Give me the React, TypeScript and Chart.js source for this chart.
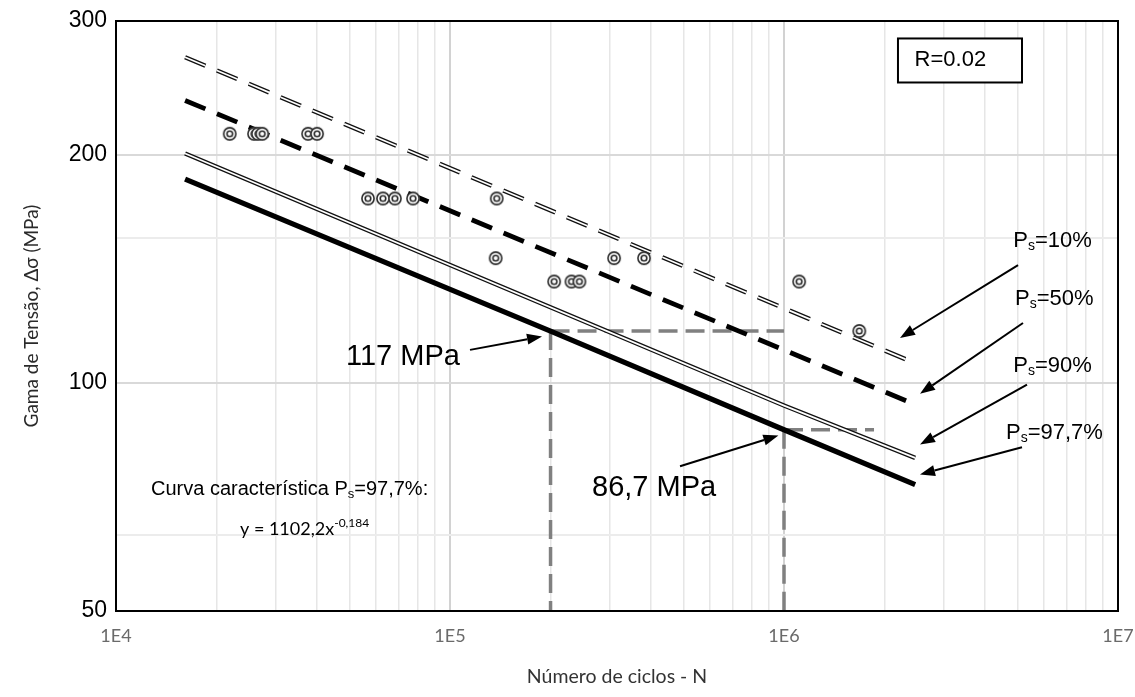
import React, { useEffect, useRef } from 'react';
import { Chart, registerables } from 'chart.js';

Chart.register(...registerables);

// Fatigue test results: cycles to failure N and stress range (MPa)
const testCycles = [21900, 25900, 26600, 27400, 37600, 40000, 56800, 63000, 68400, 77500, 138000, 137000, 205000, 231000, 244000, 310000, 381000, 1110000, 1680000];
const testStress = [213, 213, 213, 213, 213, 213, 175, 175, 175, 175, 175, 146, 136, 136, 136, 146, 146, 136, 117];

// S-N curves for the survival probabilities
const curveCycles = [16100, 2470000];
const ps10Stress = [268.8, 106.1];
const ps50Stress = [235.7, 93.6];
const ps90Cycles = [16100, 1000000, 2470000];
const ps90Stress = [200.6, 93.3, 79.6];
const ps977Cycles = [16100, 200000, 1000000, 2470000];
const ps977Stress = [185.6, 117, 86.7, 73.4];

// Characteristic values read at 2E5 and 1E6 cycles
const refCycles = [200000, 1000000];
const refStress = [117, 86.7];

// Axis ticks
const xDecades = [1e4, 1e5, 1e6, 1e7];
const xTickLabels = ['1E4', '1E5', '1E6', '1E7'];
const yTickValues = [50, 100, 200, 300];
const yTickLabels = ['50', '100', '200', '300'];
const yExtraGrid = [63, 155];

const ARIAL = "'Liberation Sans', Arial, sans-serif";
const CALIBRI = "Lato, 'Open Sans', sans-serif";

const pts = (xs: number[], ys: number[]) => xs.map((x, i) => ({ x, y: ys[i] }));

function ringMarker() {
  const c = document.createElement('canvas');
  c.width = 16;
  c.height = 16;
  const g = c.getContext('2d')!;
  g.fillStyle = '#ffffff';
  g.beginPath();
  g.arc(8, 8, 6.6, 0, Math.PI * 2);
  g.fill();
  g.strokeStyle = '#2a2a2a';
  g.lineWidth = 1.6;
  g.beginPath();
  g.arc(8, 8, 6.1, 0, Math.PI * 2);
  g.stroke();
  g.beginPath();
  g.arc(8, 8, 2.8, 0, Math.PI * 2);
  g.stroke();
  return c;
}

type Part = { text: string; size: number; dy?: number; font?: string };

function drawRich(ctx: CanvasRenderingContext2D, parts: Part[], x: number, y: number, color = '#000') {
  ctx.save();
  ctx.fillStyle = color;
  ctx.textBaseline = 'middle';
  ctx.textAlign = 'left';
  let cx = x;
  for (const p of parts) {
    ctx.font = `${p.size}px ${p.font || ARIAL}`;
    ctx.fillText(p.text, cx, y + (p.dy || 0));
    cx += ctx.measureText(p.text).width;
  }
  ctx.restore();
}

function drawArrow(ctx: CanvasRenderingContext2D, x1: number, y1: number, x2: number, y2: number) {
  const ang = Math.atan2(y2 - y1, x2 - x1);
  const head = 15;
  const half = 5.5;
  const bx = x2 - head * Math.cos(ang);
  const by = y2 - head * Math.sin(ang);
  ctx.save();
  ctx.strokeStyle = '#000';
  ctx.fillStyle = '#000';
  ctx.lineWidth = 2;
  ctx.beginPath();
  ctx.moveTo(x1, y1);
  ctx.lineTo(bx, by);
  ctx.stroke();
  ctx.beginPath();
  ctx.moveTo(x2, y2);
  ctx.lineTo(bx + half * Math.sin(ang), by - half * Math.cos(ang));
  ctx.lineTo(bx - half * Math.sin(ang), by + half * Math.cos(ang));
  ctx.closePath();
  ctx.fill();
  ctx.restore();
}

const psLabel = (value: string): Part[] => [
  { text: 'P', size: 22 },
  { text: 's', size: 14, dy: 5 },
  { text: '=' + value, size: 22 },
];

// Dashed guide lines at the characteristic values
const guidePlugin = {
  id: 'guides',
  beforeDatasetsDraw(chart: any) {
    const { ctx, scales } = chart;
    const X = (v: number) => scales.x.getPixelForValue(v);
    const Y = (v: number) => scales.y.getPixelForValue(v);
    ctx.save();
    ctx.strokeStyle = '#808080';
    ctx.lineWidth = 3.5;
    ctx.setLineDash([19, 8]);
    const seg = (a: number[], b: number[]) => {
      ctx.beginPath();
      ctx.moveTo(X(a[0]), Y(a[1]));
      ctx.lineTo(X(b[0]), Y(b[1]));
      ctx.stroke();
    };
    seg([refCycles[0], refStress[0]], [refCycles[1], refStress[0]]);
    seg([refCycles[0], refStress[0]], [refCycles[0], 50]);
    seg([refCycles[1], refStress[1]], [1860000, refStress[1]]);
    seg([refCycles[1], refStress[1]], [refCycles[1], 50]);
    ctx.restore();
  },
};

// Frame, labels, arrows and the R box
const annotationPlugin = {
  id: 'annotations',
  afterDatasetsDraw(chart: any) {
    const { ctx, scales, chartArea } = chart;
    const X = (v: number) => scales.x.getPixelForValue(v);
    const Y = (v: number) => scales.y.getPixelForValue(v);

    // plot frame
    ctx.save();
    ctx.strokeStyle = '#000';
    ctx.lineWidth = 2;
    ctx.strokeRect(chartArea.left, chartArea.top, chartArea.right - chartArea.left, chartArea.bottom - chartArea.top);
    ctx.restore();

    // R box
    const bx1 = X(2194000), bx2 = X(5159000), by1 = Y(284.5), by2 = Y(248.9);
    ctx.save();
    ctx.fillStyle = '#fff';
    ctx.fillRect(bx1, by1, bx2 - bx1, by2 - by1);
    ctx.strokeStyle = '#000';
    ctx.lineWidth = 2;
    ctx.strokeRect(bx1, by1, bx2 - bx1, by2 - by1);
    ctx.restore();
    drawRich(ctx, [{ text: 'R=0.02', size: 22 }], X(2460000), Y(266.5));

    // value callouts
    drawRich(ctx, [{ text: `${refStress[0]} MPa`, size: 29 }], X(48800), Y(108.2));
    drawArrow(ctx, X(114800), Y(110.5), X(188600), Y(115.1));
    drawRich(ctx, [{ text: `${String(refStress[1]).replace('.', ',')} MPa`, size: 29 }], X(266200), Y(72.7));
    drawArrow(ctx, X(488300), Y(77.6), X(962000), Y(85.2));

    // probability labels
    drawRich(ctx, psLabel('10%'), X(4860000), Y(153.9));
    drawArrow(ctx, X(5020000), Y(142.9), X(2225000), Y(114.6));
    drawRich(ctx, psLabel('50%'), X(4916000), Y(128.9));
    drawArrow(ctx, X(5194000), Y(119.9), X(2554000), Y(96.7));
    drawRich(ctx, psLabel('90%'), X(4860000), Y(105.1));
    drawArrow(ctx, X(5340000), Y(99.4), X(2554000), Y(82.9));
    drawRich(ctx, psLabel('97,7%'), X(4620000), Y(85.9));
    drawArrow(ctx, X(5159000), Y(82.2), X(2554000), Y(75.7));

    // characteristic curve equation
    drawRich(
      ctx,
      [
        { text: 'Curva característica P', size: 20 },
        { text: 's', size: 13, dy: 5 },
        { text: '=97,7%:', size: 20 },
      ],
      X(12730),
      Y(72.3)
    );
    drawRich(
      ctx,
      [
        { text: 'y = 1102,2x', size: 18, font: CALIBRI },
        { text: '-0,184', size: 12, dy: -6, font: CALIBRI },
      ],
      X(23510),
      Y(64.1)
    );
  },
};

export default function App() {
  const canvasRef = useRef<HTMLCanvasElement | null>(null);

  useEffect(() => {
    const canvas = canvasRef.current;
    if (!canvas) return;
    const marker = ringMarker();

    const lineBase = {
      showLine: true,
      pointRadius: 0,
      pointHoverRadius: 0,
      tension: 0,
      fill: false,
      borderCapStyle: 'butt',
      borderJoinStyle: 'round',
    };

    const chart = new Chart(canvas, {
      type: 'scatter',
      data: {
        datasets: [
          {
            label: 'Ensaios',
            data: pts(testCycles, testStress),
            pointStyle: marker,
            pointRadius: 7,
            showLine: false,
            order: 0,
          },
          // Ps=10%: dashed double line
          { ...lineBase, label: 'Ps=10%', data: pts(curveCycles, ps10Stress), borderColor: '#111', borderWidth: 4.4, borderDash: [22, 12.5], order: 3 },
          { ...lineBase, label: 'Ps=10% core', data: pts(curveCycles, ps10Stress), borderColor: '#fff', borderWidth: 1.7, borderDash: [22, 12.5], order: 2 },
          // Ps=50%: thick dashed line
          { ...lineBase, label: 'Ps=50%', data: pts(curveCycles, ps50Stress), borderColor: '#000', borderWidth: 4.8, borderDash: [22, 12.5], order: 3 },
          // Ps=90%: solid double line
          { ...lineBase, label: 'Ps=90%', data: pts(ps90Cycles, ps90Stress), borderColor: '#111', borderWidth: 4.4, order: 3 },
          { ...lineBase, label: 'Ps=90% core', data: pts(ps90Cycles, ps90Stress), borderColor: '#fff', borderWidth: 1.7, order: 2 },
          // Ps=97,7%: characteristic curve
          { ...lineBase, label: 'Ps=97,7%', data: pts(ps977Cycles, ps977Stress), borderColor: '#000', borderWidth: 5.2, order: 3 },
        ],
      },
      options: {
        responsive: false,
        animation: false,
        events: [],
        layout: { padding: { top: 21, right: 17, left: 0, bottom: 0 } },
        plugins: {
          legend: { display: false },
          tooltip: { enabled: false },
        },
        scales: {
          x: {
            type: 'logarithmic',
            min: 1e4,
            max: 1e7,
            afterBuildTicks: (scale: any) => {
              const ticks: { value: number }[] = [];
              for (let d = 0; d < xDecades.length; d++) {
                const dec = xDecades[d];
                if (d === xDecades.length - 1) {
                  ticks.push({ value: dec });
                } else {
                  for (let m = 1; m <= 9; m++) ticks.push({ value: dec * m });
                }
              }
              scale.ticks = ticks;
            },
            afterFit: (scale: any) => {
              scale.height = 86;
              scale.paddingLeft = 0;
              scale.paddingRight = 0;
            },
            grid: {
              drawTicks: false,
              color: (c: any) => (xDecades.includes(c.tick?.value) ? '#d2d2d2' : '#e6e6e6'),
              lineWidth: (c: any) => (xDecades.includes(c.tick?.value) ? 2 : 1.5),
            },
            border: { display: false },
            ticks: {
              autoSkip: false,
              maxRotation: 0,
              padding: 14,
              color: '#6a6a6a',
              font: { family: CALIBRI, size: 18 },
              callback: (v: any) => {
                const i = xDecades.indexOf(Number(v));
                return i >= 0 ? xTickLabels[i] : '';
              },
            },
            title: {
              display: true,
              text: 'Número de ciclos - N',
              color: '#333333',
              font: { family: CALIBRI, size: 19.5 },
              padding: { top: 0, bottom: 9 },
            },
          },
          y: {
            type: 'logarithmic',
            min: 50,
            max: 300,
            afterBuildTicks: (scale: any) => {
              scale.ticks = [...yTickValues, ...yExtraGrid].sort((a, b) => a - b).map((value) => ({ value }));
            },
            afterFit: (scale: any) => {
              scale.width = 116;
              scale.paddingTop = 0;
              scale.paddingBottom = 0;
            },
            grid: {
              drawTicks: false,
              color: (c: any) => (yExtraGrid.includes(c.tick?.value) ? '#ececec' : '#d9d9d9'),
              lineWidth: 2,
            },
            border: { display: false },
            ticks: {
              autoSkip: false,
              padding: 9,
              color: '#000',
              font: { family: ARIAL, size: 23 },
              callback: (v: any) => {
                const i = yTickValues.indexOf(Number(v));
                return i >= 0 ? yTickLabels[i] : '';
              },
            },
            title: {
              display: true,
              text: 'Gama de Tensão, Δσ (MPa)',
              color: '#2a2a2a',
              font: { family: CALIBRI, size: 19 },
              padding: { top: 20, bottom: 0 },
            },
          },
        },
      },
      plugins: [guidePlugin, annotationPlugin],
    } as any);

    return () => chart.destroy();
  }, []);

  return (
    <div style={{ position: 'fixed', left: 0, top: 0, width: 1135, height: 697, background: '#fff' }}>
      <canvas ref={canvasRef} width={1135} height={697} style={{ width: 1135, height: 697, display: 'block' }} />
    </div>
  );
}
